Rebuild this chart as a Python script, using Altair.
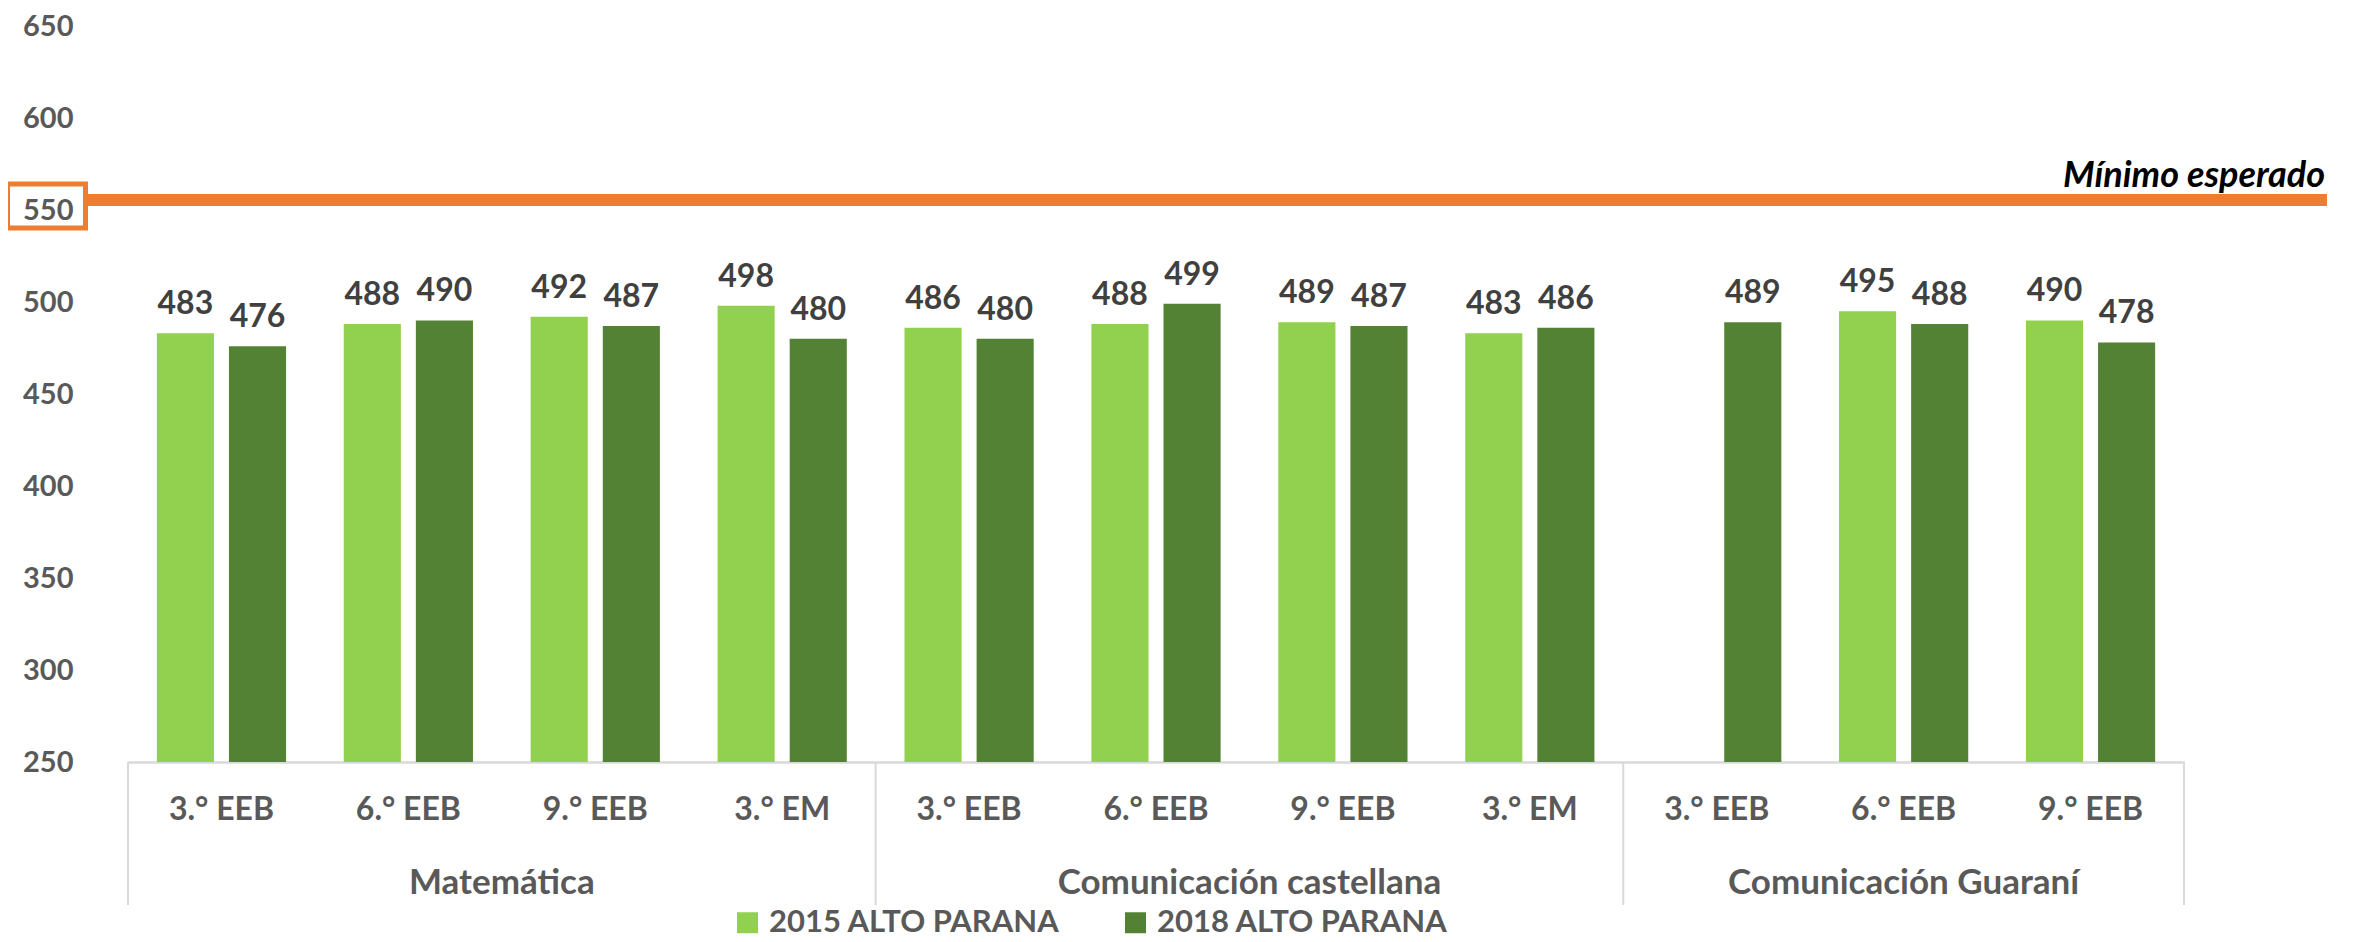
import altair as alt
import pandas as pd

# ---- data ----
subjects = ["Matemática"] * 4 + ["Comunicación castellana"] * 4 + ["Comunicación Guaraní"] * 3
grades = ["3.° EEB", "6.° EEB", "9.° EEB", "3.° EM",
          "3.° EEB", "6.° EEB", "9.° EEB", "3.° EM",
          "3.° EEB", "6.° EEB", "9.° EEB"]
v2015 = [483, 488, 492, 498, 486, 488, 489, 483, None, 495, 490]
v2018 = [476, 490, 487, 480, 480, 499, 487, 486, 489, 488, 478]
series = ["2015 ALTO PARANA", "2018 ALTO PARANA"]
colors = ["#92D050", "#548235"]
y_ticks = [250, 300, 350, 400, 450, 500, 550, 600, 650]
y_min, y_max = 250, 650
minimo = 550
minimo_label = "Mínimo esperado"
group_names = ["Matemática", "Comunicación castellana", "Comunicación Guaraní"]

keys = [f"{s}|{g}" for s, g in zip(subjects, grades)]

rows = []
for k, a, b in zip(keys, v2015, v2018):
    if a is not None:
        rows.append({"key": k, "series": series[0], "value": a})
    if b is not None:
        rows.append({"key": k, "series": series[1], "value": b})
df = pd.DataFrame(rows)

# group label anchors
grp_boundary = pd.DataFrame({"key": [keys[1], keys[5]], "label": group_names[:2]})
grp_center = pd.DataFrame({"key": [keys[9]], "label": group_names[2:]})
sep_start = pd.DataFrame({"key": [keys[0], keys[4], keys[8]]})
sep_end = pd.DataFrame({"key": [keys[10]]})
ref_df = pd.DataFrame({"v": [minimo], "label": [minimo_label]})

W, H = 2056, 736
TOP = 18
FONT = "Lato"
GRAY = "#595959"
ORANGE = "#ED7D31"

xscale = alt.Scale(domain=keys, paddingInner=0, paddingOuter=0)
yscale = alt.Scale(domain=[y_min, y_max], nice=False, zero=False)

x_enc = alt.X(
    "key:N", scale=xscale,
    axis=alt.Axis(title=None, labelExpr="split(datum.label, '|')[1]", labelAngle=0,
                  labelFont=FONT, labelFontSize=32, labelFontWeight="bold", labelColor=GRAY,
                  labelPadding=32, ticks=False, grid=False, labelLimit=0,
                  domainColor="#D9D9D9", domainWidth=2.5),
)
y_enc = alt.Y(
    "value:Q", scale=yscale,
    axis=alt.Axis(title=None, values=y_ticks, grid=False, ticks=False, domain=False,
                  labelFont=FONT, labelFontSize=29, labelFontWeight="bold", labelColor=GRAY,
                  labelPadding=55),
)
xoff = alt.XOffset("series:N", scale=alt.Scale(domain=series, paddingInner=0.208, paddingOuter=0.4))

bars = alt.Chart(df).mark_bar().encode(
    x=x_enc, xOffset=xoff, y=y_enc, y2=alt.datum(y_min),
    color=alt.Color("series:N", scale=alt.Scale(domain=series, range=colors),
                    legend=alt.Legend(orient="none", legendX=604, legendY=881, direction="horizontal",
                                      title=None, symbolType="square", symbolSize=441,
                                      symbolStrokeWidth=0, padding=0, labelLimit=0,
                                      labelFont=FONT, labelFontSize=31, labelFontWeight="bold",
                                      labelColor=GRAY, labelOffset=6, columnPadding=60)),
)

labels = alt.Chart(df).mark_text(
    baseline="alphabetic", dy=-19, font=FONT, fontSize=32, fontWeight="bold", color="#404040"
).encode(x=alt.X("key:N", scale=xscale), xOffset=xoff, y=alt.Y("value:Q", scale=yscale),
         text=alt.Text("value:Q", format="d"))

sep1 = alt.Chart(sep_start).mark_rule(color="#D9D9D9", strokeWidth=2).encode(
    x=alt.X("key:N", scale=xscale, bandPosition=0), y=alt.value(H), y2=alt.value(H + 143))
sep2 = alt.Chart(sep_end).mark_rule(color="#D9D9D9", strokeWidth=2).encode(
    x=alt.X("key:N", scale=xscale, bandPosition=1), y=alt.value(H), y2=alt.value(H + 143))

gtext_style = dict(font=FONT, fontSize=35, fontWeight="bold", color=GRAY, baseline="middle", align="center")
g1 = alt.Chart(grp_boundary).mark_text(**gtext_style).encode(
    x=alt.X("key:N", scale=xscale, bandPosition=1), y=alt.value(H + 121), text="label:N")
g2 = alt.Chart(grp_center).mark_text(**gtext_style).encode(
    x=alt.X("key:N", scale=xscale, bandPosition=0.5), y=alt.value(H + 121), text="label:N")

ref_rule = alt.Chart(ref_df).mark_rule(color=ORANGE, strokeWidth=12, yOffset=-10).encode(
    x=alt.value(-40), x2=alt.value(2199), y=alt.Y("v:Q", scale=yscale))
ref_box = alt.Chart(ref_df).mark_point(
    shape="M-1,-0.564L1,-0.564L1,0.564L-1,0.564Z", size=6084, filled=False,
    strokeWidth=5, color=ORANGE, opacity=1, yOffset=-4
).encode(x=alt.value(-81.5), y=alt.Y("v:Q", scale=yscale))
ref_text = alt.Chart(ref_df).mark_text(
    align="right", baseline="alphabetic", dy=-23, font=FONT, fontSize=36,
    fontWeight="bold", fontStyle="italic", color="#000000"
).encode(x=alt.value(2197), y=alt.Y("v:Q", scale=yscale), text="label:N")

chart = alt.layer(bars, labels, sep1, sep2, g1, g2, ref_rule, ref_box, ref_text).properties(
    width=W, height=H,
    autosize=alt.AutoSizeParams(type="none"),
    padding={"left": 120, "top": TOP, "right": 162, "bottom": 180},
).configure_view(stroke=None)

chart.save("out.html", embed_options={"renderer": "svg", "actions": False})
